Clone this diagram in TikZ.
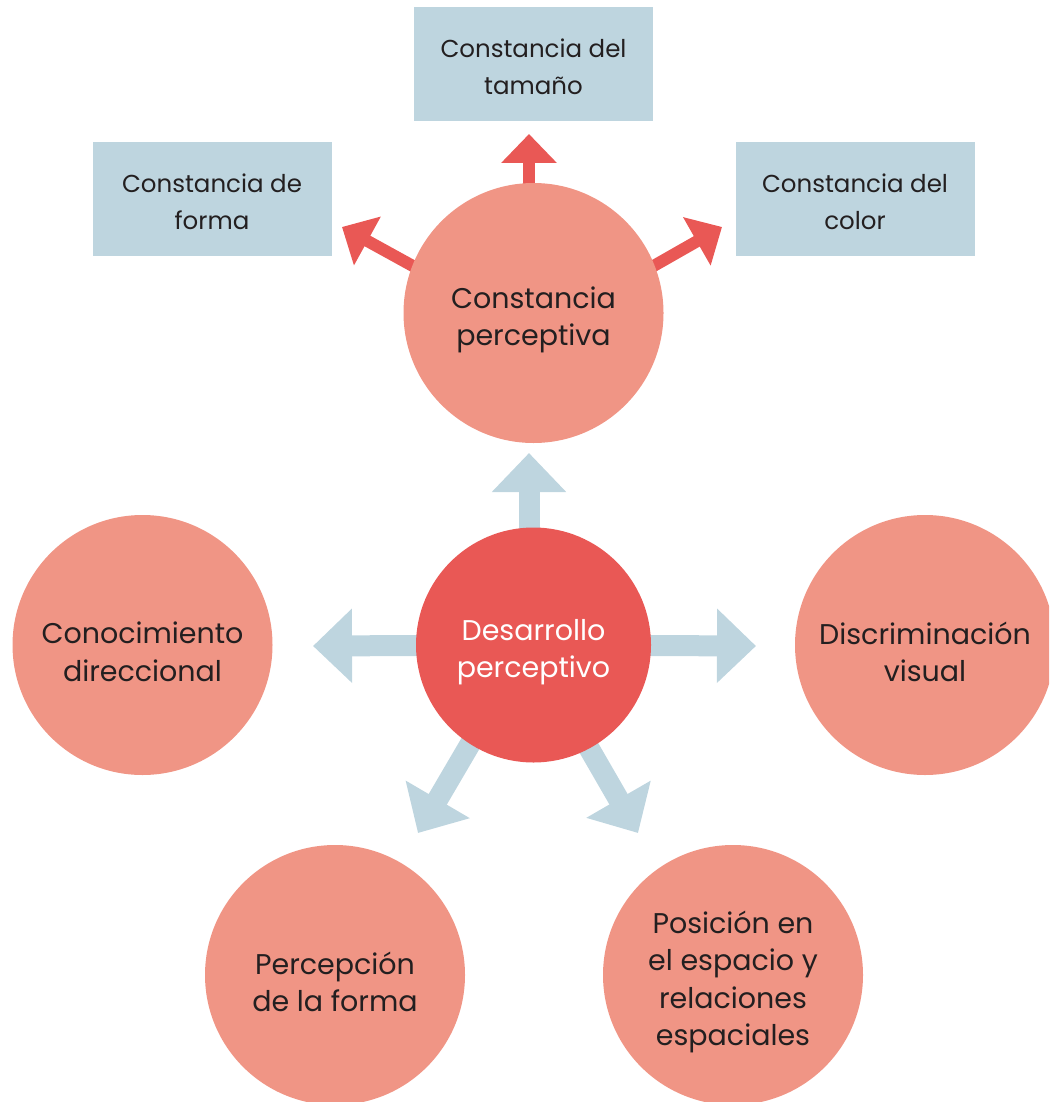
\documentclass[tikz,border=0pt]{standalone}
\usepackage{fontspec}
\setmainfont{Poppins}
\usetikzlibrary{arrows.meta,backgrounds,calc}
\definecolor{salmon}{HTML}{F09585}
\definecolor{redc}{HTML}{E95855}
\definecolor{bluec}{HTML}{BED5DF}
\definecolor{txt}{HTML}{231F20}
\begin{document}
\begin{tikzpicture}[x=1pt,y=-1pt,
  outer/.style={circle, fill=salmon, minimum size=260pt, inner sep=0pt},
  core/.style={circle, fill=redc, minimum size=235pt, inner sep=0pt},
  ctext/.style={align=center, text=txt, inner sep=0pt, yshift=-7pt, font=\fontsize{28.5}{37.5}\selectfont},
  wtext/.style={ctext, text=white},
  infobox/.style={rectangle, fill=bluec, minimum width=239pt, minimum height=114pt, inner sep=0pt},
  btext/.style={align=center, text=txt, inner sep=0pt, yshift=-3pt, font=\fontsize{24.5}{37}\selectfont},
  bluearrow/.style={draw=bluec, line width=21pt, -{Triangle[width=72pt,length=39pt]}},
  redarrow/.style={draw=redc, line width=12pt, -{Triangle[width=54pt,length=29pt]}}]
\clip (0,0) rectangle (1049,1102);
\useasboundingbox (0,0) rectangle (1049,1102);

% boxes
\node[infobox] (tam) at (533.5,64) {};
\node[btext] (tam-t) at (tam.center) {Constancia del\\tamaño};
\node[infobox] (for) at (212,199) {};
\node[btext] (for-t) at (for.center) {Constancia de\\forma};
\node[infobox] (col) at (855,199) {};
\node[btext] (col-t) at (col.center) {Constancia del\\color};

% circles
\node[outer] (cp) at (533.5,313) {};
\node[ctext] (cp-t) at (cp.center) {Constancia\\perceptiva};
\node[core] (c) at (533.5,645) {};
\node[wtext] (c-t) at (c.center) {Desarrollo\\perceptivo};
\node[outer] (cd) at (142.5,645) {};
\node[ctext] (cd-t) at (cd.center) {Conocimiento\\direccional};
\node[outer] (dv) at (925,645) {};
\node[ctext] (dv-t) at (dv.center) {Discriminación\\visual};
\node[outer] (pf) at (335,975) {};
\node[ctext] (pf-t) at (pf.center) {Percepción\\de la forma};
\node[outer] (pe) at (733,975) {};
\node[ctext] (pe-t) at (pe.center) {Posición en\\el espacio y\\relaciones\\espaciales};

% arrow tips
\coordinate (rt) at (529,134);
\coordinate (rl) at (342,227);
\coordinate (rr) at (722,227);
\coordinate (bt) at (529,453);
\coordinate (bl) at (313,646);
\coordinate (br) at (756,646);
\coordinate (bbl) at (418,833);
\coordinate (bbr) at (638,833);

\begin{pgfonlayer}{background}
  \draw[redarrow] (cp.center -| rt) -- (rt);
  \draw[redarrow] ($(cp.center)!0.85!(cp.160)$) -- (rl);
  \draw[redarrow] ($(cp.center)!0.85!(cp.20)$) -- (rr);
  \draw[bluearrow] (c.center -| bt) -- (bt);
  \draw[bluearrow] (c.center) -- (bl);
  \draw[bluearrow] (c.center) -- (br);
  \draw[bluearrow] ($(c.center)!0.85!(c.237)$) -- (bbl);
  \draw[bluearrow] ($(c.center)!0.85!(c.298)$) -- (bbr);
\end{pgfonlayer}
\end{tikzpicture}
\end{document}
